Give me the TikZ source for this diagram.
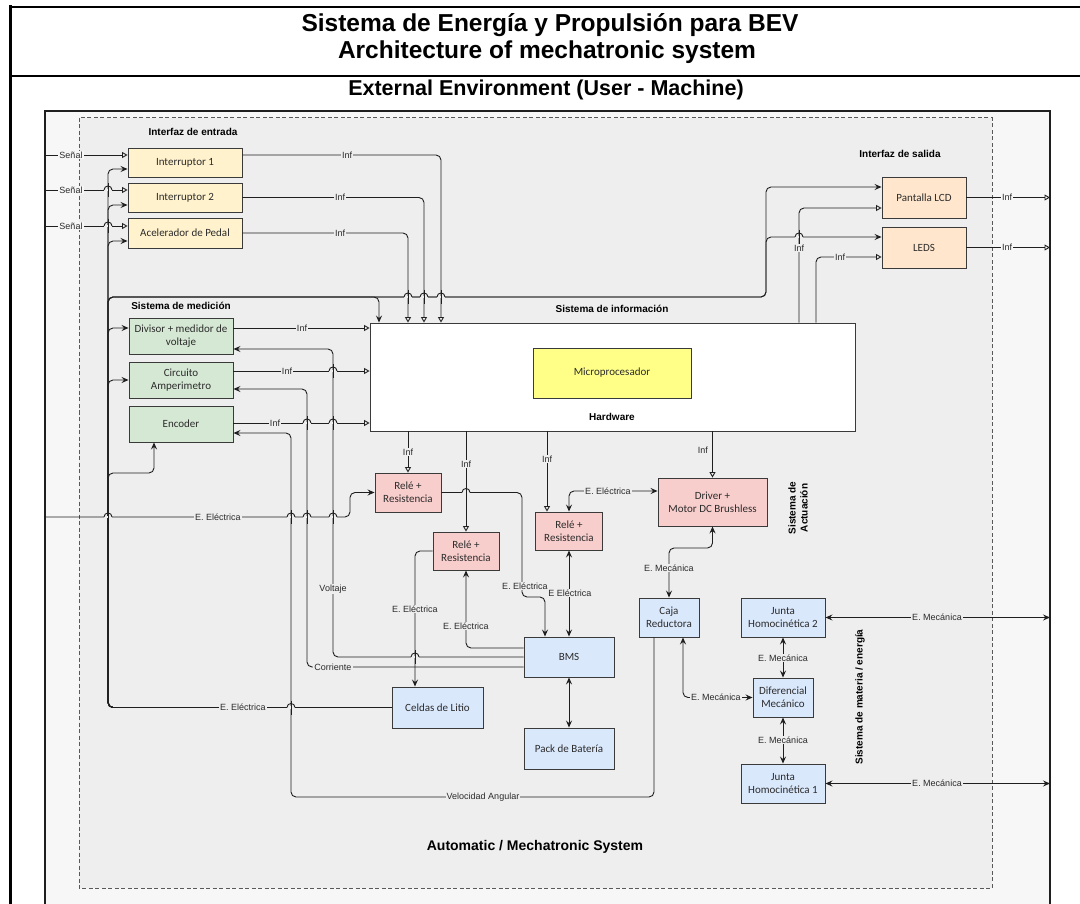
\documentclass[tikz,border=0pt]{standalone}
\usepackage{fontspec}
\setmainfont{Liberation Sans}
\newfontfamily\boxfont{Carlito}
\usetikzlibrary{arrows.meta}

\definecolor{bgA}{HTML}{EEEEEE}
\definecolor{bgB}{HTML}{F7F7F7}
\definecolor{lineC}{HTML}{1F1F1F}
\definecolor{boxC}{HTML}{3A3A3A}
\definecolor{textC}{HTML}{2B2B2B}
\definecolor{fIn}{HTML}{FFF2CC}
\definecolor{fOut}{HTML}{FFE6CC}
\definecolor{fMed}{HTML}{D5E8D4}
\definecolor{fAct}{HTML}{F8CECC}
\definecolor{fMat}{HTML}{DAE8FC}
\definecolor{fCpu}{HTML}{FFFF88}

% line jump: a small arc on a horizontal wire where a vertical wire crosses it
\newcommand{\jump}[2]{%
  \fill[bgA] (#1-4,#2-1.4) rectangle (#1+4,#2+1.4);
  \draw[draw=lineC, line width=0.9pt] (#1-4,#2) .. controls (#1-4,#2-5.3) and (#1+4,#2-5.3) .. (#1+4,#2);
  \draw[draw=lineC, line width=0.9pt] (#1,#2-7) -- (#1,#2+7);}

\begin{document}
\begin{tikzpicture}[x=1pt,y=-1pt,
  ln/.style={draw=lineC, line width=0.9pt, rounded corners=5pt},
  inf/.style={ln, -{Triangle[open,length=5.5pt,width=6pt]}},
  pwr/.style={ln, -{Stealth[length=7pt,width=6pt,inset=2.5pt]}},
  pwrtwo/.style={ln, {Stealth[length=7pt,width=6pt,inset=2.5pt]}-{Stealth[length=7pt,width=6pt,inset=2.5pt]}},
  lbl/.style={fill=bgA, inner sep=1pt, font=\fontsize{9}{10}\selectfont, text=textC},
  lblo/.style={lbl, fill=bgB},
  sec/.style={font=\bfseries\fontsize{10}{12}\selectfont, text=black, inner sep=1pt},
  box/.style={draw=boxC, line width=0.9pt, align=center, inner sep=1pt,
    font=\boxfont\fontsize{11}{13}\selectfont, text=textC},
]
\useasboundingbox (0,0) rectangle (1080,904);
\clip (0,0) rectangle (1080,904);
\fill[white] (0,0) rectangle (1080,904);

% ---------- frames ----------
\filldraw[fill=bgB, draw=lineC, line width=1.3pt] (45,920) -- (45,111) -- (1050,111) -- (1050,920);
\filldraw[fill=bgA, draw=black!65, line width=1pt, dash pattern=on 4pt off 2.5pt] (79,118) rectangle (992,888);
\draw[line width=2pt] (10,7) -- (1080,7);
\draw[line width=3pt] (10,5.5) -- (10,904);
\draw[line width=1.5pt] (10,76) -- (1080,76);

% ---------- titles ----------
\node[font=\bfseries\fontsize{24.5}{28}\selectfont] (title) at (550,25) {Sistema de Energía y Propulsión para BEV};
\node[font=\bfseries\fontsize{24.5}{28}\selectfont] (subtitle) at (547,52) {Architecture of mechatronic system};
\node[font=\bfseries\fontsize{21.5}{24}\selectfont] (envtitle) at (546,90) {External Environment (User - Machine)};
\node[font=\bfseries\fontsize{14}{16}\selectfont] (systitle) at (535,847) {Automatic / Mechatronic System};

% ---------- section labels ----------
\node[sec] (secIn) at (193,132) {Interfaz de entrada};
\node[sec] (secOut) at (900,154) {Interfaz de salida};
\node[sec] (secMed) at (181,306) {Sistema de medición};
\node[sec] (secInfo) at (612,309) {Sistema de información};
\node[sec, rotate=90, align=center] (secAct) at (798,508) {Sistema de\\Actuación};
\node[sec, rotate=90] (secMat) at (860,697) {Sistema de materia / energía};

% ---------- blocks ----------
\node[box, fill=fIn, minimum width=114pt, minimum height=29pt] (int1) at (185,162.5) {Interruptor 1};
\node[box, fill=fIn, minimum width=114pt, minimum height=29pt] (int2) at (185,197.5) {Interruptor 2};
\node[box, fill=fIn, minimum width=114pt, minimum height=30pt] (acel) at (185,233) {Acelerador de Pedal};

\node[box, fill=fOut, minimum width=84pt, minimum height=41pt] (lcd) at (924,197.5) {Pantalla LCD};
\node[box, fill=fOut, minimum width=84pt, minimum height=41pt] (leds) at (924,247.5) {LEDS};

\node[box, fill=fMed, minimum width=104pt, minimum height=36pt] (div) at (181,336) {Divisor + medidor de\\voltaje};
\node[box, fill=fMed, minimum width=104pt, minimum height=36pt] (amp) at (181,380) {Circuito\\Amperimetro};
\node[box, fill=fMed, minimum width=104pt, minimum height=36pt] (enc) at (181,424) {Encoder};

\node[box, fill=white, minimum width=485pt, minimum height=108pt] (info) at (612.5,377) {};
\node[box, fill=fCpu, minimum width=158pt, minimum height=50pt] (micro) at (612,373) {Microprocesador};
\node[sec] (hw) at (612,417) {Hardware};

\node[box, fill=fAct, minimum width=66pt, minimum height=39pt] (rel1) at (408,492.5) {Relé +\\Resistencia};
\node[box, fill=fAct, minimum width=66pt, minimum height=38pt] (rel2) at (466,551) {Relé +\\Resistencia};
\node[box, fill=fAct, minimum width=67pt, minimum height=38pt] (rel3) at (569,531) {Relé +\\Resistencia};
\node[box, fill=fAct, minimum width=109pt, minimum height=48pt] (drv) at (712.5,502) {Driver +\\Motor DC Brushless};

\node[box, fill=fMat, minimum width=60pt, minimum height=39pt] (caja) at (669,617.5) {Caja\\Reductora};
\node[box, fill=fMat, minimum width=84pt, minimum height=39pt] (j2) at (783,617.5) {Junta\\Homocinética 2};
\node[box, fill=fMat, minimum width=60pt, minimum height=39pt] (dif) at (783,697.5) {Diferencial\\Mecánico};
\node[box, fill=fMat, minimum width=84pt, minimum height=39pt] (j1) at (783,783.5) {Junta\\Homocinética 1};
\node[box, fill=fMat, minimum width=90pt, minimum height=40pt] (bms) at (569,657) {BMS};
\node[box, fill=fMat, minimum width=91pt, minimum height=41pt] (celdas) at (437.5,707.5) {Celdas de Litio};
\node[box, fill=fMat, minimum width=90pt, minimum height=41pt] (pack) at (569,748.5) {Pack de Batería};

% ---------- free ends on the environment border ----------
\coordinate (s1) at (45,155);
\coordinate (s2) at (45,190);
\coordinate (s3) at (45,226);
\coordinate (eIn) at (45,517);
\coordinate (oLcd) at (1050,197.5);
\coordinate (oLeds) at (1050,247.5);
\coordinate (oJtwo) at (1050,617.5);
\coordinate (oJone) at (1050,783.5);

% ---------- user signals ----------
\draw[inf] (s1) -- (int1.west |- s1);
\draw[inf] (s2) -- (int2.west |- s2);
\draw[inf] (s3) -- (acel.west |- s3);

% ---------- supply bus from the cells ----------
\draw[pwr] (celdas.west) -- (108,707.5) -- (108,169) -- (int1.west |- 0,169);
\draw[pwr] (celdas.west) -- (108,707.5) -- (108,205) -- (int2.west |- 0,205);
\draw[pwr] (celdas.west) -- (108,707.5) -- (108,241) -- (acel.west |- 0,241);
\draw[pwr] (celdas.west) -- (108,707.5) -- (108,328) -- (div.west |- 0,328);
\draw[pwr] (celdas.west) -- (108,707.5) -- (108,380) -- (amp.west |- 0,380);
\draw[pwr] (celdas.west) -- (108,707.5) -- (108,473) -- (154,473) -- (enc.south -| 154,0);
\draw[pwr] (celdas.west) -- (108,707.5) -- (108,297) -- (379,297) -- (info.north -| 379,0);
\draw[pwr] (celdas.west) -- (108,707.5) -- (108,297) -- (766,297) -- (766,187) -- (lcd.west |- 0,187);
\draw[pwr] (celdas.west) -- (108,707.5) -- (108,297) -- (766,297) -- (766,237) -- (leds.west |- 0,237);

% ---------- input interface to information system ----------
\draw[inf] (int1.east |- 0,155) -- (441,155) -- (info.north -| 441,0);
\draw[inf] (int2.east) -- (424,197.5) -- (info.north -| 424,0);
\draw[inf] (acel.east) -- (408,233) -- (info.north -| 408,0);

% ---------- information system to output interface ----------
\draw[inf] (info.north -| 799,0) -- (799,208) -- (lcd.west |- 0,208);
\draw[inf] (info.north -| 816,0) -- (816,257) -- (leds.west |- 0,257);
\draw[inf] (lcd.east) -- (oLcd);
\draw[inf] (leds.east) -- (oLeds);

% ---------- measurement to information system ----------
\draw[inf] (div.east |- 0,328) -- (info.west |- 0,328);
\draw[inf] (amp.east |- 0,371) -- (info.west |- 0,371);
\draw[inf] (enc.east |- 0,423) -- (info.west |- 0,423);

% ---------- feedback to the sensors ----------
\draw[pwr] (bms.west |- 0,657) -- (333,657) -- (333,349) -- (div.east |- 0,349);
\draw[pwr] (bms.west |- 0,667) -- (307,667) -- (307,389) -- (amp.east |- 0,389);
\draw[pwr] (caja.south -| 654,0) -- (654,797) -- (291,797) -- (291,433) -- (enc.east |- 0,433);

% ---------- external energy to the first relay ----------
\draw[pwr] (eIn) -- (350,517) -- (350,492.5) -- (rel1.west);

% ---------- information system to actuators ----------
\draw[inf] (info.south -| 408,0) -- (rel1.north -| 408,0);
\draw[inf] (info.south -| 466,0) -- (rel2.north -| 466,0);
\draw[inf] (info.south -| 547,0) -- (rel3.north -| 547,0);
\draw[inf] (info.south -| drv.north) -- (drv.north);

% ---------- electrical energy paths ----------
\draw[pwr] (rel1.east) -- (522,492.5) -- (522,597) -- (545,597) -- (bms.north -| 545,0);
\draw[pwrtwo] (drv.west |- 0,491) -- (569,491) -- (rel3.north);
\draw[pwrtwo] (rel3.south) -- (bms.north);
\draw[pwr] (bms.west |- 0,648) -- (466,648) -- (rel2.south);
\draw[pwr] (rel2.west) -- (415,551) -- (celdas.north -| 415,0);
\draw[pwrtwo] (bms.south) -- (pack.north);

% ---------- mechanical energy paths ----------
\draw[pwrtwo] (caja.north) -- (669,548) -- (712.5,548) -- (drv.south);
\draw[pwrtwo] (caja.south -| 683,0) -- (683,697.5) -- (dif.west);
\draw[pwrtwo] (j2.south) -- (dif.north);
\draw[pwrtwo] (dif.south) -- (j1.north);
\draw[pwrtwo] (j2.east) -- (oJtwo);
\draw[pwrtwo] (j1.east) -- (oJone);

% ---------- line jumps ----------
\jump{108}{190} \jump{108}{226}
\jump{408}{297} \jump{424}{297} \jump{441}{297}
\jump{291}{707.5}
\jump{108}{517} \jump{291}{517} \jump{307}{517} \jump{333}{517}
\jump{333}{371} \jump{307}{423} \jump{333}{423}
\jump{466}{492.5} \jump{415}{657} \jump{799}{237}

% ---------- connector labels ----------
\node[lblo] (lS1) at (71,155) {Señal};
\node[lblo] (lS2) at (71,190) {Señal};
\node[lblo] (lS3) at (71,226) {Señal};
\node[lbl] (lBus) at (243,707.5) {E. Eléctrica};
\node[lbl] (lI1) at (347,155) {Inf};
\node[lbl] (lI2) at (340,197.5) {Inf};
\node[lbl] (lI3) at (340,233) {Inf};
\node[lbl] (lLcd) at (799,248) {Inf};
\node[lbl] (lLeds) at (840,257) {Inf};
\node[lblo] (lOut1) at (1007,197.5) {Inf};
\node[lblo] (lOut2) at (1007,247.5) {Inf};
\node[lbl] (lM1) at (302,328) {Inf};
\node[lbl] (lM2) at (287,371) {Inf};
\node[lbl] (lM3) at (275,423) {Inf};
\node[lbl] (lVolt) at (333,589) {Voltaje};
\node[lbl] (lCorr) at (333,667) {Corriente};
\node[lbl] (lVel) at (483,797) {Velocidad Angular};
\node[lbl] (lEin) at (218,517) {E. Eléctrica};
\node[lbl] (lR1) at (408,452) {Inf};
\node[lbl] (lR2) at (466,464) {Inf};
\node[lbl] (lR3) at (547,459) {Inf};
\node[lbl, fill=none, anchor=east] (lDrv) at (709,450) {Inf};
\node[lbl] (lRB) at (525,586) {E. Eléctrica};
\node[lbl] (lDR) at (608,491) {E. Eléctrica};
\node[lbl] (lR3B) at (570,593) {E Eléctrica};
\node[lbl] (lBR2) at (466,626) {E. Eléctrica};
\node[lbl] (lR2C) at (415,609) {E. Eléctrica};
\node[lbl] (lDC) at (669,568) {E. Mecánica};
\node[lbl] (lCD) at (716,697.5) {E. Mecánica};
\node[lbl] (lJD) at (783,658) {E. Mecánica};
\node[lbl] (lDJ) at (783,740) {E. Mecánica};
\node[lbl] (lJ2) at (937,617.5) {E. Mecánica};
\node[lbl] (lJ1) at (937,783.5) {E. Mecánica};
\end{tikzpicture}
\end{document}
